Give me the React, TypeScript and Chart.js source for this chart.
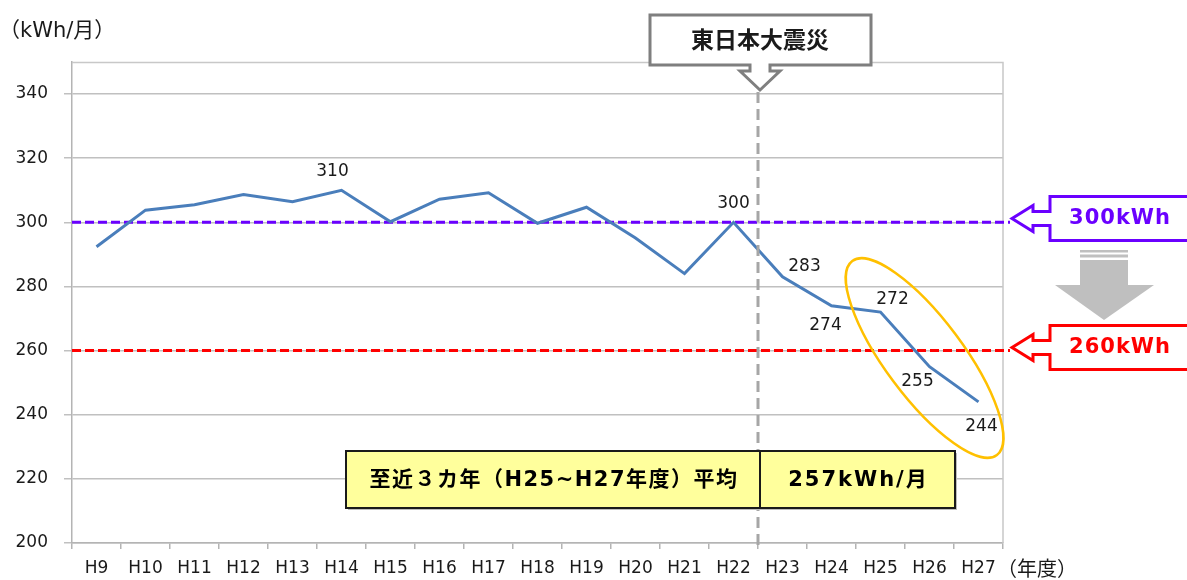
import { useEffect, useRef } from 'react';
import { Chart, registerables } from 'chart.js';

Chart.register(...registerables);

const years = ['H9', 'H10', 'H11', 'H12', 'H13', 'H14', 'H15', 'H16', 'H17', 'H18', 'H19', 'H20', 'H21', 'H22', 'H23', 'H24', 'H25', 'H26', 'H27'];
const usage = [292.4, 303.8, 305.5, 308.7, 306.4, 310, 300.2, 307.2, 309.2, 299.7, 304.7, 295.1, 284, 300, 283, 274, 272, 255, 244];
const yTicks = [200, 220, 240, 260, 280, 300, 320, 340];
const yMin = 200;
const yMax = 350;
const targetValues = [300, 260];
const targetTexts = ['300kWh', '260kWh'];
const targetColors = ['#6a00ff', '#ff0000'];
const labeledYears = ['H14', 'H22', 'H23', 'H24', 'H25', 'H26', 'H27'];
const eventText = '東日本大震災';
const avgText = '至近３カ年（H25~H27年度）平均';
const avgValueText = '257kWh/月';
const unitText = '（kWh/月）';
const xUnitText = '（年度）';

// style-only constants (pixel offsets for label placement)
const labelOffsets: [number, number][] = [[-9, -19], [0, -19], [22, -10], [-6, 20], [12, -13], [-12, 15], [3, 25]];

const LATIN = "'DejaVu Sans', 'Noto Sans CJK JP', sans-serif";
const CJK = "'Noto Sans CJK JP', 'DejaVu Sans', sans-serif";

const annotate = {
  id: 'annotate',
  beforeDatasetsDraw(chart: any) {
    const { ctx, chartArea, scales } = chart;
    const y = scales.y;
    ctx.save();
    ctx.strokeStyle = '#c8c8c8';
    ctx.lineWidth = 1.5;
    ctx.beginPath();
    ctx.moveTo(chartArea.left, chartArea.top + 0.5);
    ctx.lineTo(chartArea.right, chartArea.top + 0.5);
    ctx.lineTo(chartArea.right, chartArea.bottom);
    ctx.stroke();
    targetValues.forEach((v, i) => {
      const py = y.getPixelForValue(v);
      ctx.strokeStyle = targetColors[i];
      ctx.lineWidth = 3;
      ctx.setLineDash([9, 4]);
      ctx.beginPath();
      ctx.moveTo(chartArea.left, py);
      ctx.lineTo(1010, py);
      ctx.stroke();
    });
    ctx.restore();
  },
  afterDatasetsDraw(chart: any) {
    const { ctx, chartArea, scales } = chart;
    const x = scales.x;
    const y = scales.y;
    const bx = x.getPixelForValue(years.indexOf('H22') + 0.5);
    ctx.save();
    ctx.strokeStyle = '#a6a6a6';
    ctx.lineWidth = 3;
    ctx.setLineDash([11, 6]);
    ctx.beginPath();
    ctx.moveTo(bx, 92);
    ctx.lineTo(bx, chartArea.bottom + 4);
    ctx.stroke();
    ctx.setLineDash([]);

    const L = 346, T = 451, R = 955, B = 508;
    ctx.fillStyle = '#bdbdbd';
    ctx.fillRect(L + 2, T + 2, R - L, B - T);
    ctx.fillStyle = '#ffff9c';
    ctx.fillRect(L, T, R - L, B - T);
    ctx.strokeStyle = '#1a1a1a';
    ctx.lineWidth = 2;
    ctx.strokeRect(L, T, R - L, B - T);
    ctx.beginPath();
    ctx.moveTo(bx + 2, T);
    ctx.lineTo(bx + 2, B);
    ctx.stroke();
    ctx.fillStyle = '#000';
    ctx.textBaseline = 'middle';
    ctx.textAlign = 'center';
    ctx.font = `bold 21px ${LATIN}`;
    (ctx as any).letterSpacing = '1.5px';
    ctx.fillText(avgText, (L + bx) / 2 + 2, (T + B) / 2 + 1);
    ctx.font = `bold 21px ${LATIN}`;
    (ctx as any).letterSpacing = '2px';
    ctx.fillText(avgValueText, (bx + R) / 2 + 2, (T + B) / 2 + 1);
    (ctx as any).letterSpacing = '0px';

    ctx.font = `17px ${LATIN}`;
    ctx.fillStyle = '#1a1a1a';
    labeledYears.forEach((yr, i) => {
      const idx = years.indexOf(yr);
      const px = x.getPixelForValue(idx);
      const py = y.getPixelForValue(usage[idx]);
      ctx.fillText(String(Math.round(usage[idx])), px + labelOffsets[i][0], py + labelOffsets[i][1]);
    });

    ctx.strokeStyle = '#ffc000';
    ctx.lineWidth = 2.5;
    ctx.beginPath();
    ctx.ellipse(x.getPixelForValue(16.9), y.getPixelForValue(257.7), 121, 39, (53.3 * Math.PI) / 180, 0, Math.PI * 2);
    ctx.stroke();
    ctx.restore();
  },
  afterDraw(chart: any) {
    const { ctx, scales } = chart;
    const x = scales.x;
    const bx = x.getPixelForValue(years.indexOf('H22') + 0.5);
    ctx.save();
    ctx.textBaseline = 'middle';

    ctx.fillStyle = '#1a1a1a';
    ctx.textAlign = 'left';
    ctx.font = `21px ${LATIN}`;
    ctx.fillText(unitText, -1, 32);
    ctx.font = `20px ${CJK}`;
    ctx.fillText(xUnitText, 997, 568);

    const cx = bx + 2;
    ctx.beginPath();
    ctx.moveTo(650, 15);
    ctx.lineTo(871, 15);
    ctx.lineTo(871, 65);
    ctx.lineTo(cx + 10, 65);
    ctx.lineTo(cx + 10, 71);
    ctx.lineTo(cx + 20, 71);
    ctx.lineTo(cx, 90);
    ctx.lineTo(cx - 20, 71);
    ctx.lineTo(cx - 10, 71);
    ctx.lineTo(cx - 10, 65);
    ctx.lineTo(650, 65);
    ctx.closePath();
    ctx.fillStyle = '#ffffff';
    ctx.fill();
    ctx.strokeStyle = '#7f7f7f';
    ctx.lineWidth = 3;
    ctx.lineJoin = 'miter';
    ctx.stroke();
    ctx.fillStyle = '#1a1a1a';
    ctx.textAlign = 'center';
    ctx.font = `bold 23px ${CJK}`;
    ctx.fillText(eventText, 760, 39);

    const centers = [218.5, 347.5];
    targetTexts.forEach((t, i) => {
      const cy = centers[i];
      const tip = 1012;
      ctx.beginPath();
      ctx.moveTo(tip, cy);
      ctx.lineTo(tip + 21, cy - 13);
      ctx.lineTo(tip + 21, cy - 7);
      ctx.lineTo(tip + 38, cy - 7);
      ctx.lineTo(tip + 38, cy - 22);
      ctx.lineTo(1195, cy - 22);
      ctx.lineTo(1195, cy + 22);
      ctx.lineTo(tip + 38, cy + 22);
      ctx.lineTo(tip + 38, cy + 7);
      ctx.lineTo(tip + 21, cy + 7);
      ctx.lineTo(tip + 21, cy + 13);
      ctx.closePath();
      ctx.fillStyle = '#ffffff';
      ctx.fill();
      ctx.strokeStyle = targetColors[i];
      ctx.lineWidth = 3;
      ctx.stroke();
      ctx.fillStyle = targetColors[i];
      ctx.font = `bold 21px ${LATIN}`;
      (ctx as any).letterSpacing = '1px';
      ctx.fillText(t, 1120, cy);
      (ctx as any).letterSpacing = '0px';
    });

    ctx.fillStyle = '#bfbfbf';
    ctx.fillRect(1080, 250, 48, 2.5);
    ctx.fillRect(1080, 254.5, 48, 3);
    ctx.fillRect(1080, 260, 48, 25.5);
    ctx.beginPath();
    ctx.moveTo(1055, 285);
    ctx.lineTo(1154, 285);
    ctx.lineTo(1104, 320);
    ctx.closePath();
    ctx.fill();
    ctx.restore();
  },
};

export default function App() {
  const ref = useRef<HTMLCanvasElement | null>(null);
  useEffect(() => {
    if (!ref.current) return;
    const chart = new Chart(ref.current, {
      type: 'line',
      data: {
        labels: years,
        datasets: [
          {
            data: usage,
            borderColor: '#4a7ebb',
            borderWidth: 3,
            pointRadius: 0,
            tension: 0,
            fill: false,
          },
        ],
      },
      options: {
        responsive: false,
        animation: false,
        devicePixelRatio: 1,
        layout: { padding: { top: 62, right: 184, left: 0, bottom: 0 } },
        plugins: { legend: { display: false }, tooltip: { enabled: false }, title: { display: false } },
        scales: {
          x: {
            type: 'category',
            offset: true,
            grid: { offset: true, drawOnChartArea: false, drawTicks: true, tickLength: 6, color: '#b4b4b4', lineWidth: 1.5 },
            border: { color: '#b4b4b4', width: 1.5 },
            ticks: { font: { family: LATIN, size: 17 }, color: '#1a1a1a', padding: 9, maxRotation: 0, autoSkip: false },
            afterFit: (s: any) => { s.height = 37; },
          },
          y: {
            min: yMin,
            max: yMax,
            grid: { color: '#c0c0c0', lineWidth: 1.5, tickLength: 8 },
            border: { color: '#b4b4b4', width: 1.5 },
            ticks: { font: { family: LATIN, size: 17 }, color: '#1a1a1a', padding: 16 },
            afterBuildTicks: (s: any) => { s.ticks = yTicks.map((v) => ({ value: v })); },
            afterFit: (s: any) => { s.width = 72; },
          },
        },
      },
      plugins: [annotate],
    });
    return () => chart.destroy();
  }, []);
  return (
    <div style={{ position: 'absolute', left: 0, top: 0, width: 1187, height: 580, background: '#fff' }}>
      <canvas ref={ref} width={1187} height={580} style={{ display: 'block' }} />
    </div>
  );
}
